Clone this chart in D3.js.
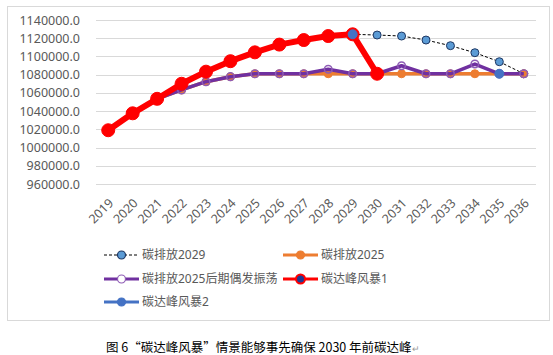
<!DOCTYPE html>
<html><head><meta charset="utf-8">
<script src="https://cdn.jsdelivr.net/npm/d3@7"></script>
<style>
html,body{margin:0;padding:0;background:#fff;}
svg{display:block;}
</style></head>
<body>
<svg id="c" width="553" height="355"></svg>
<script>
const years = ["2019","2020","2021","2022","2023","2024","2025","2026","2027","2028","2029","2030","2031","2032","2033","2034","2035","2036"];
const yTicks = [960000,980000,1000000,1020000,1040000,1060000,1080000,1100000,1120000,1140000];
const s2029 = [null,null,null,null,null,null,null,null,null,null,1124300,1123500,1122400,1118000,1111800,1104100,1094200,1081000];
const s2025 = [1019000,1037600,1053500,1063200,1072300,1077800,1081000,1081000,1081000,1081000,1081000,1081000,1081000,1081000,1081000,1081000,1081000,1081000];
const sOsc  = [1019000,1037600,1053500,1063200,1072300,1077800,1081000,1081000,1081000,1085900,1081000,1081000,1089800,1081000,1081000,1091700,1081000,1081000];
const storm1 = [1019000,1037600,1053500,1070000,1083300,1094800,1104500,1113000,1118000,1122400,1124300,1081000,null,null,null,null,null,null];
const storm2 = [null,null,null,null,null,null,null,null,null,null,1124300,null,null,null,null,null,1081000,null];
const seriesNames = ["碳排放2029","碳排放2025","碳排放2025后期偶发振荡","碳达峰风暴1","碳达峰风暴2"];
const caption = "图 6\u201C碳达峰风暴\u201D情景能够事先确保 2030 年前碳达峰";

const svg = d3.select("#c");
const font = "'Noto Sans','Noto Sans CJK SC',sans-serif";
const grey = "#595959";

// chart frame
svg.append("rect").attr("x",7.5).attr("y",6.5).attr("width",542).attr("height",314)
  .attr("fill","#fff").attr("stroke","#d9d9d9").attr("stroke-width",1);

const x = d3.scaleBand().domain(years).range([96,536]);
const y = d3.scaleLinear().domain([960000,1140000]).range([184,20]);
const cx = d => x(d) + x.bandwidth()/2;

// grid
svg.append("g").selectAll("line").data(yTicks).join("line")
  .attr("x1",96).attr("x2",536)
  .attr("y1",d=>Math.round(y(d))+0.5).attr("y2",d=>Math.round(y(d))+0.5)
  .attr("stroke","#d9d9d9").attr("stroke-width",1);

// y axis labels
const yAxis = d3.axisLeft(y).tickValues(yTicks).tickFormat(d=>d3.format(".1f")(d)).tickSize(0).tickPadding(16);
const ya = svg.append("g").attr("transform","translate(96,0)").call(yAxis);
ya.select(".domain").remove();
ya.selectAll("text").attr("font-family",font).attr("font-size",12.5).attr("fill",grey);

// x axis labels
const xAxis = d3.axisBottom(x).tickSize(0).tickPadding(0);
const xa = svg.append("g").attr("transform","translate(0,184)").call(xAxis);
xa.select(".domain").remove();
xa.selectAll("text").attr("font-family",font).attr("font-size",12.5).attr("fill",grey)
  .attr("text-anchor","end").attr("dy",0)
  .attr("transform","translate(6,20) rotate(-45)");

function pts(arr){ return years.map((yr,i)=>({yr, v:arr[i]})); }
const line = d3.line().defined(d=>d.v!=null).x(d=>cx(d.yr)).y(d=>y(d.v));

function drawSeries(arr, o){
  const g = svg.append("g");
  if(o.lw>0){
    g.append("path").datum(pts(arr)).attr("d",line).attr("fill","none")
      .attr("stroke",o.stroke).attr("stroke-width",o.lw)
      .attr("stroke-dasharray",o.dash||null).attr("stroke-linejoin","round");
  }
  g.selectAll("circle").data(pts(arr).filter(d=>d.v!=null)).join("circle")
    .attr("cx",d=>cx(d.yr)).attr("cy",d=>y(d.v)).attr("r",o.r)
    .attr("fill",o.mfill).attr("stroke",o.mstroke).attr("stroke-width",o.msw);
}

const styles = [
  {stroke:"#000",lw:1,dash:"3,2",r:4,mfill:"#5b9bd5",mstroke:"#1f3864",msw:1},
  {stroke:"#ed7d31",lw:3.5,r:4,mfill:"#ed7d31",mstroke:"#ed7d31",msw:1},
  {stroke:"#7030a0",lw:3.5,r:3.8,mfill:"none",mstroke:"#8e5cb5",msw:1.5},
  {stroke:"#ff0000",lw:6,r:6.5,mfill:"#ff0000",mstroke:"#ff0000",msw:1},
  {stroke:"#4472c4",lw:0,r:4.5,mfill:"#4472c4",mstroke:"#4472c4",msw:1}
];
const allData = [s2029,s2025,sOsc,storm1,storm2];
allData.forEach((a,i)=>drawSeries(a,styles[i]));

// legend
const legPos = [[104,255],[283,255],[104,279],[283,279],[104,302]];
const lg = svg.append("g");
seriesNames.forEach((n,i)=>{
  const [lx,ly] = legPos[i];
  const st = styles[i];
  const lstroke = i===4 ? "#4472c4" : st.stroke;
  const lw = i===0 ? 1 : 3;
  lg.append("line").attr("x1",lx).attr("x2",lx+35).attr("y1",ly).attr("y2",ly)
    .attr("stroke",lstroke).attr("stroke-width",lw).attr("stroke-dasharray",st.dash||null);
  let mf = st.mfill, ms = st.mstroke, r = 4;
  if(i===2){ mf = "#fff"; }
  if(i===3){ mf = "#1f3a93"; ms = "#ff0000"; r = 4.5; }
  lg.append("circle").attr("cx",lx+17.5).attr("cy",ly).attr("r",r)
    .attr("fill",mf).attr("stroke",ms).attr("stroke-width",i===3?2:1.2);
  lg.append("text").attr("x",lx+38).attr("y",ly).attr("dy","0.36em")
    .attr("font-family",font).attr("font-size",12).attr("fill",grey).text(n);
});

// caption
const cap = svg.append("text").attr("x",106).attr("y",352)
  .attr("font-family","'Noto Sans CJK SC','Noto Sans',sans-serif").attr("font-size",12.5)
  .attr("font-weight",400).attr("fill","#000");
cap.append("tspan").text(caption);
cap.append("tspan").attr("fill","#999").attr("font-size",9).text("\u21B5");
</script>
</body></html>
